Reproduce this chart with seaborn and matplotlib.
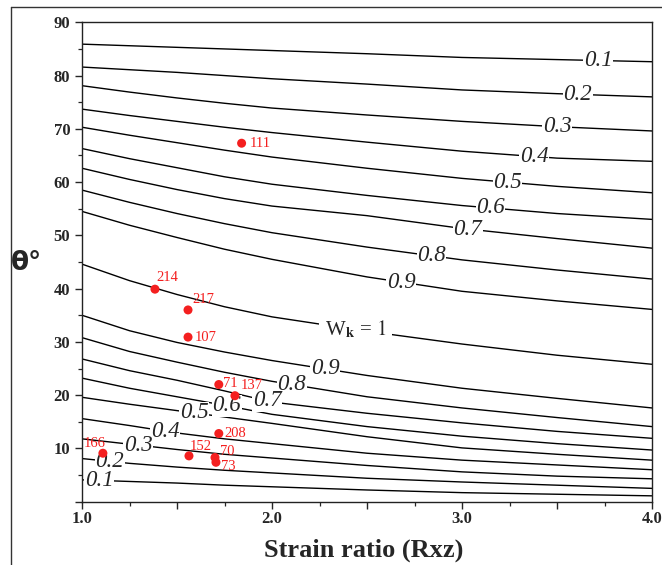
import numpy as np
import pandas as pd
import matplotlib
matplotlib.use("Agg")
import matplotlib.pyplot as plt
import seaborn as sns
from matplotlib.lines import Line2D
from matplotlib.ticker import MultipleLocator, FuncFormatter

# ---------------- data ----------------
R_grid = [1.0, 1.25, 1.5, 1.75, 2.0, 2.5, 3.0, 3.5, 4.0]

# upper branch (theta decreasing with Wk)
u01 = [85.9, 85.6, 85.3, 85.0, 84.7, 84.1, 83.4, 83.0, 82.6]
u02 = [81.6, 81.1, 80.6, 80.0, 79.4, 78.4, 77.3, 76.6, 76.0]
u03 = [78.1, 76.9, 75.8, 74.8, 73.9, 72.6, 71.4, 70.4, 69.6]
u04 = [73.7, 72.5, 71.4, 70.3, 69.3, 67.5, 65.8, 64.5, 63.9]
u05 = [70.3, 68.8, 67.4, 66.0, 64.7, 62.6, 60.7, 59.2, 58.0]
u06 = [66.3, 64.4, 62.7, 61.0, 59.6, 57.5, 55.6, 54.1, 53.0]
u07 = [62.6, 60.5, 58.6, 56.9, 55.5, 53.7, 51.3, 49.4, 47.6]
u08 = [58.5, 56.2, 54.1, 52.2, 50.5, 47.8, 45.4, 43.5, 41.8]
u09 = [54.5, 51.9, 49.6, 47.4, 45.5, 42.2, 39.5, 37.7, 36.1]
w10 = [44.6, 41.5, 38.9, 36.6, 34.7, 32.0, 29.6, 27.5, 25.8]
# lower branch
l09 = [35.0, 32.1, 29.9, 28.1, 26.5, 23.7, 21.3, 19.4, 17.6]
l08 = [30.8, 28.2, 26.2, 24.3, 22.6, 19.7, 17.6, 15.8, 14.1]
l07 = [26.8, 24.6, 22.8, 20.8, 18.7, 16.6, 14.8, 13.2, 11.9]
l06 = [23.2, 21.3, 19.7, 18.1, 16.4, 14.1, 12.3, 10.9, 9.7]
l05 = [19.6, 18.3, 17.1, 15.9, 14.7, 12.2, 10.1, 8.9, 7.8]
l04 = [15.6, 14.3, 12.9, 11.8, 10.9, 9.1, 7.8, 6.9, 6.0]
l03 = [11.8, 10.8, 9.8, 8.9, 8.2, 6.8, 5.6, 4.8, 4.3]
l02 = [8.1, 7.2, 6.5, 5.9, 5.4, 4.4, 3.7, 3.1, 2.5]
l01 = [4.1, 3.8, 3.5, 3.1, 2.8, 2.2, 1.7, 1.4, 1.1]

curve_names = ["u01", "u02", "u03", "u04", "u05", "u06", "u07", "u08", "u09", "w10",
               "l09", "l08", "l07", "l06", "l05", "l04", "l03", "l02", "l01"]
curve_values = [u01, u02, u03, u04, u05, u06, u07, u08, u09, w10,
                l09, l08, l07, l06, l05, l04, l03, l02, l01]
curve_text = ["0.1", "0.2", "0.3", "0.4", "0.5", "0.6", "0.7", "0.8", "0.9", None,
              "0.9", "0.8", "0.7", "0.6", "0.5", "0.4", "0.3", "0.2", "0.1"]

# samples
pt_R = [1.84, 1.384, 1.558, 1.558, 1.72, 1.805, 1.72, 1.563, 1.70, 1.705, 1.11]
pt_theta = [67.3, 39.9, 36.0, 30.9, 22.0, 19.9, 12.8, 8.6, 8.3, 7.4, 9.1]
pt_labels = ["111", "214", "217", "107", "71", "137", "208", "152", "70", "73", "166"]

x_ticklabels = {1: "1.0", 2: "2.0", 3: "3.0", 4: "4.0"}
y_ticklabels = {10: "10", 20: "20", 30: "30", 40: "40", 50: "50",
                60: "60", 70: "70", 80: "80", 90: "90"}

# ---------------- layout / style (not data) ----------------
label_R = [3.716, 3.61, 3.50, 3.38, 3.24, 3.15, 3.03, 2.84, 2.68, None,
           2.28, 2.105, 1.975, 1.763, 1.59, 1.437, 1.295, 1.147, 1.09]
wk1_pos = (2.44, 32.0)
pt_offsets = [(8, 0, "left"), (12, 12, "center"), (15, 10, "center"), (7, 0, "left"),
              (4, 1, "left"), (6, 10, "left"), (6, 0, "left"), (12, 9, "center"),
              (5, 6, "left"), (5, -4, "left"), (-8, 10, "center")]


def fmt_x(v, p):
    k = int(round(v))
    return x_ticklabels.get(k, "") if abs(v - k) < 1e-6 else ""


def fmt_y(v, p):
    return y_ticklabels.get(int(round(v)), "")


sns.set_style("ticks")
plt.rcParams["mathtext.fontset"] = "stix"
plt.rcParams["font.family"] = ["Liberation Serif", "DejaVu Serif"]

W, H = 662, 565
fig = plt.figure(figsize=(W / 100, H / 100), dpi=100)
ax = fig.add_axes([82 / W, 1 - 501.7 / H, (652 - 82) / W, (501.7 - 22.3) / H])

rows = []
for name, vals in zip(curve_names, curve_values):
    for r, t in zip(R_grid, vals):
        rows.append({"curve": name, "R": r, "theta": t})
df = pd.DataFrame(rows)

sns.lineplot(data=df, x="R", y="theta", units="curve", estimator=None,
             color="black", lw=1.0, ax=ax, sort=True, legend=False)

# contour labels
for name, vals, txt, lr in zip(curve_names, curve_values, curve_text, label_R):
    if txt is None:
        continue
    ty = float(np.interp(lr, R_grid, vals))
    ax.text(lr, ty, txt, fontsize=16.5, fontstyle="italic", ha="center", va="center",
            family="Liberation Serif", zorder=3,
            bbox=dict(facecolor="white", edgecolor="none", pad=0.3))
wk_y = float(np.interp(wk1_pos[0], R_grid, w10))
ax.text(wk1_pos[0], wk_y, r"W$_{\mathbf{k}}$ = $\mathit{1}$", fontsize=15, ha="center",
        va="center", zorder=3, bbox=dict(facecolor="white", edgecolor="none", pad=4))

# samples
pts = pd.DataFrame({"R": pt_R, "theta": pt_theta, "label": pt_labels})
red = "#f41f1f"
sns.scatterplot(data=pts, x="R", y="theta", color=red, s=42, edgecolor="none",
                ax=ax, zorder=5, legend=False)
for (r, t, lab), (dx, dy, ha) in zip(zip(pt_R, pt_theta, pt_labels), pt_offsets):
    ax.annotate(lab, (r, t), xytext=(dx, dy), textcoords="offset pixels",
                ha=ha, va="center", color=red, fontsize=10.5,
                family="Liberation Serif", zorder=6)

# axes
ax.set_xlim(1.0, 4.0)
ax.set_ylim(0, 90)
ax.xaxis.set_major_locator(MultipleLocator(0.5))
ax.xaxis.set_minor_locator(MultipleLocator(0.25))
ax.xaxis.set_major_formatter(FuncFormatter(fmt_x))
ax.yaxis.set_major_locator(MultipleLocator(10))
ax.yaxis.set_minor_locator(MultipleLocator(5))
ax.yaxis.set_major_formatter(FuncFormatter(fmt_y))
ax.tick_params(axis="both", which="major", direction="out", length=5, width=1.0,
               labelsize=12, pad=2)
ax.tick_params(axis="both", which="minor", direction="out", length=3, width=0.9)
ax.tick_params(axis="y", which="major", pad=3.5)
for lab in ax.get_xticklabels() + ax.get_yticklabels():
    lab.set_fontweight("bold")
    lab.set_family("Liberation Serif")
for sp in ax.spines.values():
    sp.set_visible(True)
    sp.set_linewidth(1.0)
    sp.set_color("#222222")
ax.set_xlabel("")
ax.set_ylabel("")

fig.text(364 / W, 1 - 550 / H, "Strain ratio (Rxz)", fontsize=19, fontweight="bold",
         family="Liberation Serif", ha="center", va="center")
fig.text(27 / W, 1 - 263 / H, "θ°", fontsize=19, fontweight="bold", family="DejaVu Sans",
         ha="center", va="center")

# outer frame (cut at right/bottom)
fig.add_artist(Line2D([11 / W, 11 / W], [0, 1 - 7 / H], color="#333333", lw=1.0,
                      transform=fig.transFigure))
fig.add_artist(Line2D([11 / W, 1], [1 - 7 / H, 1 - 7 / H], color="#333333", lw=1.0,
                      transform=fig.transFigure))

fig.savefig("out.png", dpi=100)
